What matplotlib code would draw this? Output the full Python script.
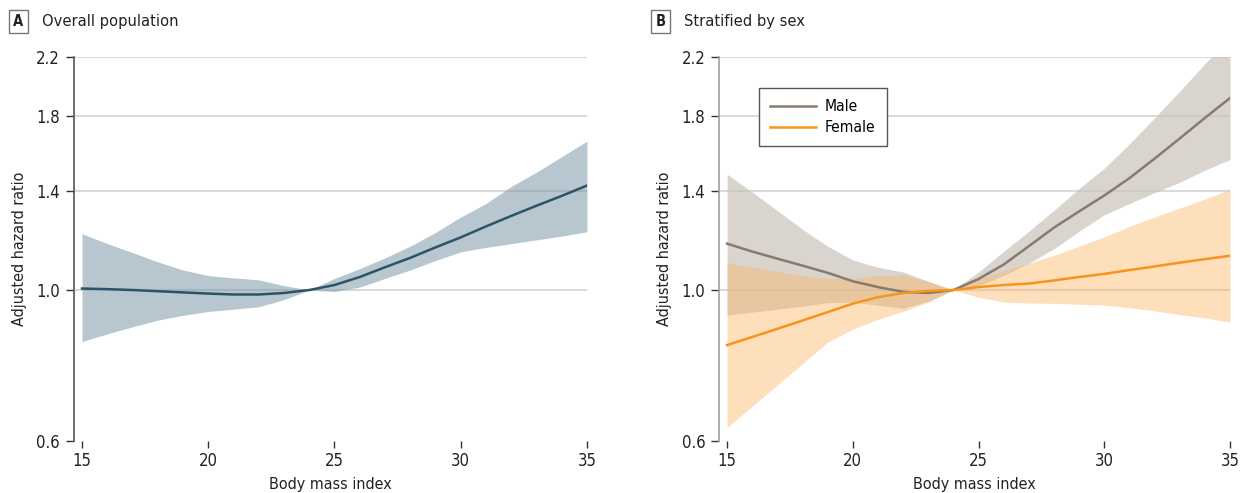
import numpy as np
import matplotlib
matplotlib.use('Agg')
import matplotlib.pyplot as plt
from matplotlib.ticker import FixedLocator, NullLocator

plt.rcParams['font.family'] = ['DejaVu Sans']
plt.rcParams['font.stretch'] = 'condensed'

bmi = np.arange(15, 36)

# panel A: overall population
all_hr = [1.005, 1.003, 1.0, 0.996, 0.992, 0.988, 0.985, 0.985, 0.99, 1.0, 1.017,
          1.045, 1.08, 1.115, 1.155, 1.195, 1.24, 1.285, 1.33, 1.375, 1.424]
all_lo = [0.84, 0.862, 0.883, 0.903, 0.918, 0.93, 0.937, 0.945, 0.968, 1.0, 0.995,
          1.01, 1.04, 1.07, 1.105, 1.138, 1.155, 1.17, 1.185, 1.2, 1.218]
all_hi = [1.21, 1.17, 1.135, 1.10, 1.07, 1.05, 1.042, 1.035, 1.015, 1.0, 1.04,
          1.075, 1.115, 1.16, 1.215, 1.28, 1.34, 1.42, 1.49, 1.57, 1.655]

# panel B: stratified by sex
male_hr = [1.17, 1.139, 1.112, 1.086, 1.06, 1.03, 1.01, 0.994, 0.99, 1.0, 1.038,
           1.09, 1.16, 1.235, 1.305, 1.377, 1.46, 1.56, 1.67, 1.79, 1.915]
male_lo = [0.918, 0.928, 0.937, 0.947, 0.958, 0.96, 0.95, 0.94, 0.963, 1.0, 1.014,
           1.05, 1.095, 1.15, 1.22, 1.29, 1.34, 1.39, 1.44, 1.50, 1.555]
male_hi = [1.48, 1.393, 1.308, 1.228, 1.16, 1.107, 1.08, 1.063, 1.03, 1.0, 1.063,
           1.14, 1.22, 1.31, 1.41, 1.51, 1.64, 1.79, 1.96, 2.15, 2.35]

fem_hr = [0.83, 0.853, 0.877, 0.902, 0.928, 0.955, 0.976, 0.99, 0.997, 1.0, 1.01,
          1.017, 1.022, 1.033, 1.045, 1.056, 1.07, 1.083, 1.097, 1.11, 1.123]
fem_lo = [0.628, 0.675, 0.725, 0.78, 0.838, 0.876, 0.906, 0.93, 0.96, 1.0, 0.976,
          0.96, 0.957, 0.956, 0.953, 0.95, 0.942, 0.932, 0.92, 0.91, 0.897]
fem_hi = [1.096, 1.08, 1.065, 1.05, 1.04, 1.04, 1.05, 1.052, 1.03, 1.0, 1.038,
          1.067, 1.095, 1.125, 1.16, 1.197, 1.24, 1.28, 1.32, 1.36, 1.405]

yticks = [0.6, 1.0, 1.4, 1.8, 2.2]
xticks = [15, 20, 25, 30, 35]

fig = plt.figure(figsize=(12.47, 4.93), dpi=100)
fig.patch.set_facecolor('white')

def setup(ax, spine_col):
    ax.set_yscale('log')
    ax.set_ylim(0.6, 2.2)
    ax.set_xlim(14.68, 35)
    ax.yaxis.set_major_locator(FixedLocator(yticks))
    ax.yaxis.set_minor_locator(NullLocator())
    ax.set_yticklabels(['%.1f' % v for v in yticks])
    ax.set_xticks(xticks)
    ax.set_xticklabels([str(v) for v in xticks])
    for v in yticks[1:]:
        ax.axhline(v, color='#d9d9d9', lw=1.5, zorder=0)
    for s in ['top', 'right', 'bottom']:
        ax.spines[s].set_visible(False)
    ax.spines['left'].set_color(spine_col)
    ax.spines['left'].set_linewidth(1.2)
    ax.tick_params(axis='y', length=6, width=1, color='#333333', labelsize=12, labelcolor='#222222', pad=4)
    ax.tick_params(axis='x', length=5, width=1, color='#333333', labelsize=12, labelcolor='#222222', pad=3)
    ax.set_xlabel('Body mass index', fontsize=11.5, color='#222222', labelpad=5)
    ax.set_ylabel('Adjusted hazard ratio', fontsize=11.5, color='#222222', labelpad=7)

ax1 = fig.add_axes([0.0593, 0.1055, 0.4114, 0.7789])
setup(ax1, '#555555')
ax1.fill_between(bmi, all_lo, all_hi, color='#7e9aa8', alpha=0.55, lw=0, zorder=1)
ax1.plot(bmi, all_hr, color='#2b5566', lw=1.8, zorder=2)

ax2 = fig.add_axes([0.5766, 0.1055, 0.4098, 0.7789])
setup(ax2, '#a0a0a0')
ax2.fill_between(bmi, male_lo, male_hi, color='#c9c3ba', alpha=0.7, lw=0, zorder=1)
ax2.fill_between(bmi, fem_lo, fem_hi, color='#fbb869', alpha=0.45, lw=0, zorder=1)
ax2.plot(bmi, male_hr, color='#867b6e', lw=1.8, zorder=2, label='Male')
ax2.plot(bmi, fem_hr, color='#f7941d', lw=1.8, zorder=3, label='Female')
leg = ax2.legend(loc='upper left', bbox_to_anchor=(0.078, 0.919), fontsize=11.2,
                 fancybox=False, framealpha=1, edgecolor='#555555', borderaxespad=0,
                 handlelength=3.0, handletextpad=0.55, borderpad=0.7, labelspacing=0.4)
leg.get_frame().set_linewidth(1.0)

# panel headers
for x0, letter, title in [(0.0148, 'A', 'Overall population'), (0.5297, 'B', 'Stratified by sex')]:
    fig.text(x0, 0.957, letter, fontsize=10.5, fontweight='bold', color='#222222', va='center', ha='center',
             bbox=dict(boxstyle='square,pad=0.28', fc='white', ec='#777777', lw=1))
    fig.text(x0 + 0.019, 0.957, title, fontsize=11.8, color='#222222', va='center', ha='left')

fig.savefig('out.png', dpi=100)
